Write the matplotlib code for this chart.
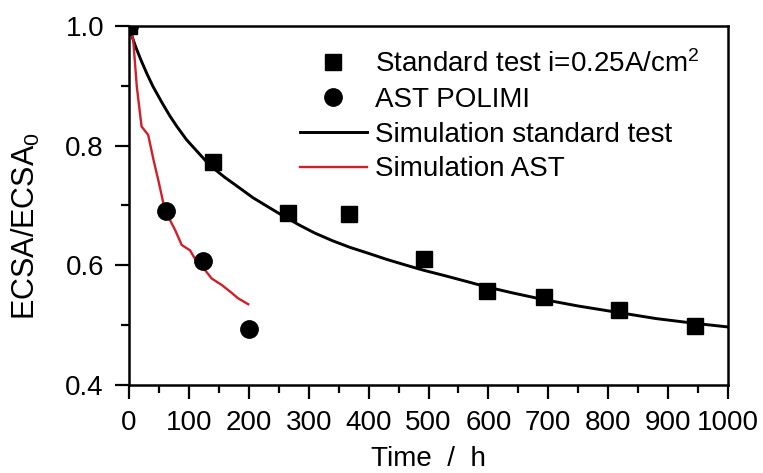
import matplotlib
matplotlib.use("Agg")
import matplotlib.pyplot as plt
from matplotlib.ticker import MultipleLocator, FormatStrFormatter

plt.rcParams['font.family'] = ['Liberation Sans', 'DejaVu Sans']
plt.rcParams['mathtext.fontset'] = 'custom'
plt.rcParams['mathtext.rm'] = 'Liberation Sans'
plt.rcParams['mathtext.it'] = 'Liberation Sans:italic'
plt.rcParams['mathtext.bf'] = 'Liberation Sans:bold'

# Experimental data
std_time = [0, 140, 265, 367, 492, 598, 692, 818, 945]
std_ecsa = [1.0, 0.772, 0.687, 0.685, 0.610, 0.557, 0.547, 0.525, 0.498]

ast_time = [0, 62, 124, 200]
ast_ecsa = [1.0, 0.691, 0.608, 0.494]

# Simulation curves
sim_std_time = [0, 3, 7, 12, 20, 30, 40, 55, 68, 80, 96, 115, 135, 160, 185, 207, 235, 260,
                285, 310, 340, 369, 400, 430, 460, 491, 530, 560, 597, 640, 691, 750, 818,
                880, 945, 1000]
sim_std_ecsa = [1.0, 0.990, 0.977, 0.963, 0.943, 0.920, 0.899, 0.872, 0.850, 0.832, 0.810,
                0.789, 0.767, 0.747, 0.729, 0.713, 0.696, 0.681, 0.667, 0.654, 0.641, 0.630,
                0.620, 0.610, 0.601, 0.592, 0.582, 0.574, 0.564, 0.554, 0.543, 0.532, 0.521,
                0.511, 0.503, 0.497]

sim_ast_time = [0, 7, 13, 21, 32, 41, 49, 60, 77, 88, 102, 113, 127, 138, 155, 169, 182, 199]
sim_ast_ecsa = [1.0, 0.977, 0.899, 0.832, 0.818, 0.776, 0.742, 0.692, 0.659, 0.634, 0.625, 0.606,
                0.592, 0.578, 0.567, 0.556, 0.545, 0.535]

labels = ['Standard test i=0.25A/cm$^{2}$', 'AST POLIMI',
          'Simulation standard test', 'Simulation AST']

W, H = 763, 473
fig = plt.figure(figsize=(W / 100, H / 100), dpi=100)
ax = fig.add_axes([129 / W, (H - 385) / H, (728 - 129) / W, (385 - 26) / H])

l1, = ax.plot(std_time, std_ecsa, linestyle='none', marker='s', markersize=12,
              color='black', label=labels[0], zorder=3)
l2, = ax.plot(ast_time, ast_ecsa, linestyle='none', marker='o', markersize=12.5,
              color='black', label=labels[1], zorder=3)
l3, = ax.plot(sim_std_time, sim_std_ecsa, color='black', lw=2.1, label=labels[2], zorder=2,
              solid_joinstyle='round')
l4, = ax.plot(sim_ast_time, sim_ast_ecsa, color='#d01f28', lw=1.7, label=labels[3], zorder=2,
              solid_joinstyle='round')

ax.set_xlim(0, 1000)
ax.set_ylim(0.4, 1.0)
ax.xaxis.set_major_locator(MultipleLocator(100))
ax.xaxis.set_minor_locator(MultipleLocator(50))
ax.yaxis.set_major_locator(MultipleLocator(0.2))
ax.yaxis.set_minor_locator(MultipleLocator(0.1))
ax.yaxis.set_major_formatter(FormatStrFormatter('%.1f'))

ax.tick_params(which='major', direction='out', length=10, width=1.6, labelsize=20,
               top=False, right=False)
ax.tick_params(axis='x', which='major', pad=8)
ax.tick_params(axis='y', which='major', pad=8)
ax.tick_params(which='minor', direction='out', length=6, width=1.6, top=False, right=False)
for s in ax.spines.values():
    s.set_linewidth(1.8)

ax.set_xlabel('Time  /  h', fontsize=20)
ax.set_ylabel('ECSA/ECSA$_{0}$', fontsize=22)
ax.yaxis.set_label_coords(-0.145, 0.443)
ax.xaxis.set_label_coords(0.5, -0.17)

leg = ax.legend(handles=[l1, l2, l3, l4], loc='upper left',
                bbox_to_anchor=(300 / W, (H - 50) / H), bbox_transform=fig.transFigure,
                frameon=False, fontsize=20, borderpad=0, borderaxespad=0,
                handlelength=2.4, handletextpad=0.3, labelspacing=0.32)

fig.savefig('out.png', dpi=100)
